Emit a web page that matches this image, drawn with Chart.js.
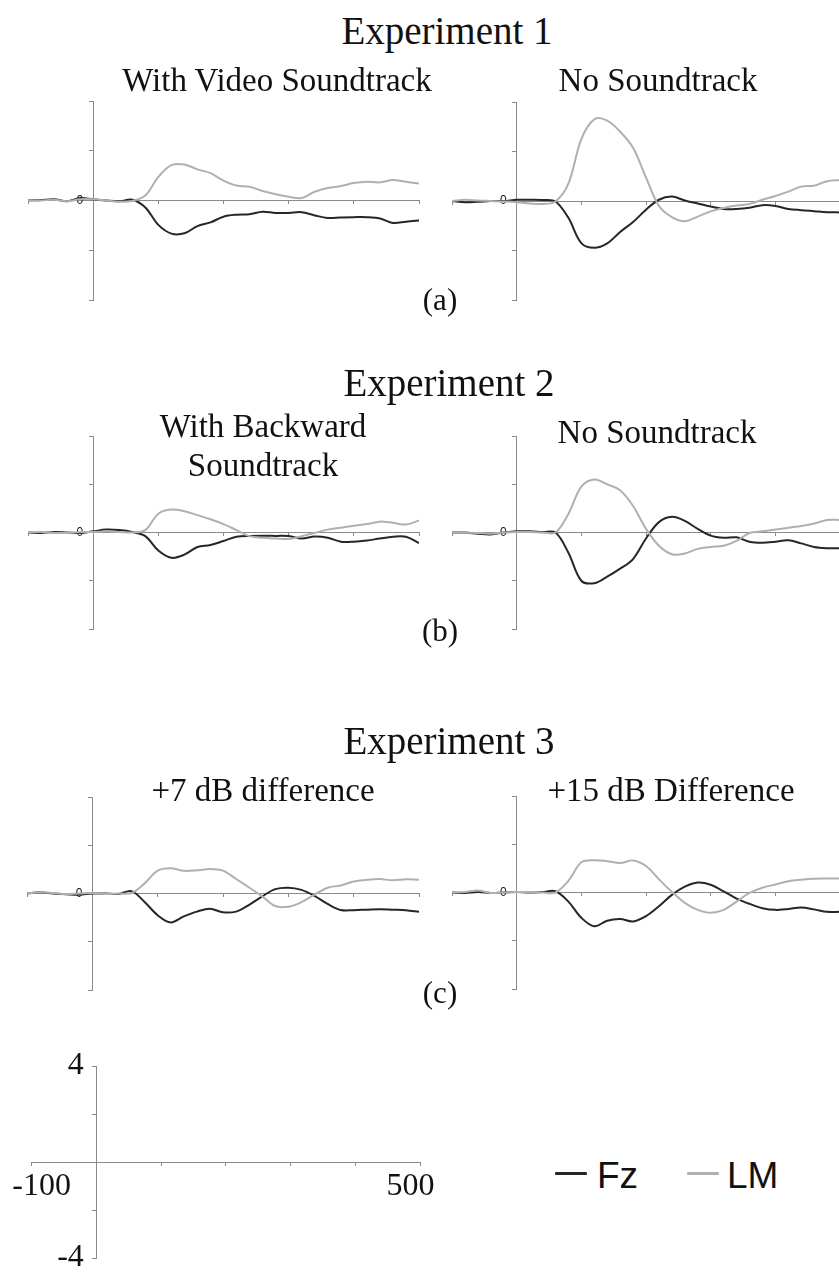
<!DOCTYPE html>
<html lang="en">
  <head>
    <meta charset="UTF-8" />
    <title>ERP waveforms, Experiments 1-3</title>
    <script src="https://cdn.jsdelivr.net/npm/chart.js@4.4.1/dist/chart.umd.min.js"></script>
    <style>
      html,
      body {
        margin: 0;
        padding: 0;
        background: #fff;
      }
      #page {
        position: relative;
        width: 839px;
        height: 1277px;
        overflow: hidden;
        background: #fff;
      }
      #page canvas {
        position: absolute;
      }
      .txt {
        position: absolute;
        white-space: nowrap;
        line-height: 1;
        color: #111;
        font-family: "Liberation Serif", "Times New Roman", serif;
      }
      .legend {
        position: absolute;
        left: 555px;
        top: 1150px;
        font-family: "Liberation Sans", Arial, sans-serif;
        font-size: 37px;
        line-height: 1;
        color: #111;
      }
      .legend .sw {
        position: absolute;
        height: 3px;
        border-radius: 1px;
      }
      .legend .lab {
        position: absolute;
        white-space: nowrap;
      }
    </style>
  </head>
  <body>
    <div id="page"></div>

    <script>
      // time axis, ms (sampled every 20 ms)
      const TIME_MS = [
        -100, -80, -60, -40, -20, 0, 20, 40, 60, 80, 100, 120, 140, 160, 180,
        200, 220, 240, 260, 280, 300, 320, 340, 360, 380, 400, 420, 440, 460,
        480, 500,
      ];

      // amplitudes in microvolts
      // Experiment 1 - with video soundtrack
      const exp1VideoFz = [0, 0.02, 0.05, -0.03, 0.1, 0.05, 0, -0.03, 0.03, -0.28, -0.98, -1.33, -1.32, -1.03, -0.88, -0.65, -0.57, -0.55, -0.45, -0.5, -0.5, -0.47, -0.6, -0.7, -0.68, -0.67, -0.67, -0.72, -0.9, -0.85, -0.8];
      const exp1VideoLm = [0, 0, 0.03, -0.03, 0.05, 0.05, 0, -0.05, -0.02, 0.2, 0.95, 1.42, 1.45, 1.25, 1.1, 0.8, 0.6, 0.55, 0.38, 0.25, 0.15, 0.1, 0.35, 0.5, 0.58, 0.7, 0.75, 0.73, 0.82, 0.75, 0.68];
      // Experiment 1 - no soundtrack
      const exp1NoneFz = [0, -0.05, -0.03, 0, 0, 0.05, 0.05, 0.04, -0.02, -0.68, -1.7, -1.89, -1.71, -1.25, -0.85, -0.35, 0.05, 0.18, 0.02, -0.1, -0.22, -0.32, -0.32, -0.27, -0.17, -0.2, -0.32, -0.37, -0.41, -0.45, -0.46];
      const exp1NoneLm = [0, 0.05, 0.02, 0, -0.02, -0.05, -0.1, -0.12, -0.02, 0.7, 2.5, 3.3, 3.25, 2.8, 2.15, 0.95, -0.2, -0.65, -0.82, -0.63, -0.42, -0.28, -0.18, -0.12, 0.05, 0.2, 0.38, 0.58, 0.62, 0.8, 0.85];
      // Experiment 2 - with backward soundtrack
      const exp2BackFz = [0, -0.02, 0.02, 0, -0.02, 0.05, 0.12, 0.1, 0.02, -0.15, -0.75, -1.05, -0.92, -0.6, -0.52, -0.35, -0.18, -0.14, -0.13, -0.14, -0.15, -0.25, -0.17, -0.22, -0.38, -0.38, -0.33, -0.25, -0.18, -0.18, -0.44];
      const exp2BackLm = [0, 0.02, -0.02, -0.02, 0.02, 0.02, 0.05, 0.02, 0, 0.1, 0.78, 0.95, 0.88, 0.72, 0.55, 0.35, 0.1, -0.15, -0.22, -0.25, -0.27, -0.15, -0.02, 0.12, 0.2, 0.28, 0.35, 0.45, 0.4, 0.33, 0.5];
      // Experiment 2 - no soundtrack
      const exp2NoneFz = [0, 0, -0.05, -0.08, 0, 0.05, 0.05, 0.02, 0, -0.84, -2.0, -2.1, -1.83, -1.5, -1.1, -0.25, 0.43, 0.65, 0.48, 0.15, -0.13, -0.22, -0.2, -0.38, -0.42, -0.38, -0.32, -0.45, -0.6, -0.65, -0.65];
      const exp2NoneLm = [0, 0, -0.02, -0.05, 0, 0.02, 0.02, 0, 0, 0.77, 1.9, 2.2, 2.0, 1.75, 1.1, 0.15, -0.55, -0.9, -0.87, -0.68, -0.6, -0.55, -0.35, -0.02, 0.05, 0.12, 0.2, 0.27, 0.37, 0.52, 0.52];
      // Experiment 3 - +7 dB difference
      const exp3SevenFz = [0, 0.05, 0, -0.03, -0.05, 0, 0, -0.02, 0.1, -0.35, -0.9, -1.2, -0.95, -0.75, -0.63, -0.78, -0.75, -0.47, -0.12, 0.18, 0.24, 0.15, -0.1, -0.43, -0.68, -0.69, -0.67, -0.65, -0.67, -0.69, -0.76];
      const exp3SevenLm = [0, 0.05, 0.02, -0.02, 0, 0.02, -0.02, 0, 0.02, 0.42, 0.95, 1.05, 0.94, 0.96, 1.02, 0.95, 0.6, 0.25, -0.12, -0.52, -0.55, -0.36, -0.05, 0.24, 0.33, 0.5, 0.57, 0.6, 0.55, 0.59, 0.57];
      // Experiment 3 - +15 dB difference
      const exp3FifteenFz = [0, -0.02, 0.02, -0.02, 0, 0.02, 0, 0.02, 0.05, -0.38, -1.05, -1.4, -1.17, -1.1, -1.2, -0.98, -0.57, -0.1, 0.24, 0.41, 0.32, 0.05, -0.25, -0.47, -0.65, -0.72, -0.68, -0.62, -0.7, -0.8, -0.8];
      const exp3FifteenLm = [0, 0.02, 0.08, -0.02, 0, 0.02, 0.02, 0, 0, 0.48, 1.25, 1.34, 1.3, 1.22, 1.33, 1.1, 0.55, 0.03, -0.43, -0.72, -0.84, -0.72, -0.38, -0.02, 0.2, 0.33, 0.47, 0.53, 0.57, 0.58, 0.58];

      // scale panel labels
      const SCALE_X_LABELS = [-100, 500];
      const SCALE_Y_LABELS = [4, -4];

      const X_MIN = -100, X_MAX = 500, Y_MIN = -4, Y_MAX = 4;

      const FZ_COLOR = "#262626";
      const LM_COLOR = "#b0b0b0";
      const AXIS_COLOR = "#8a8a8a";
      const PAD = 40;

      // where each plot's axes sit on the page: x of -100 / 500, y of +4 / -4
      const panels = [
        { fz: exp1VideoFz, lm: exp1VideoLm, x0: 28, x1: 419, top: 101, bot: 300 },
        { fz: exp1NoneFz, lm: exp1NoneLm, x0: 452, x1: 840, top: 102, bot: 300 },
        { fz: exp2BackFz, lm: exp2BackLm, x0: 28, x1: 419, top: 436, bot: 629 },
        { fz: exp2NoneFz, lm: exp2NoneLm, x0: 452, x1: 840, top: 436, bot: 629 },
        { fz: exp3SevenFz, lm: exp3SevenLm, x0: 27, x1: 419, top: 797, bot: 990 },
        { fz: exp3FifteenFz, lm: exp3FifteenLm, x0: 452, x1: 840, top: 796, bot: 989 },
      ];
      const scalePanel = { x0: 31, x1: 420, top: 1066, bot: 1258 };

      const texts = [
        { t: "Experiment 1", x: 447, base: 44, size: 39 },
        { t: "With Video Soundtrack", x: 277, base: 92, size: 33 },
        { t: "No Soundtrack", x: 658, base: 92, size: 33 },
        { t: "(a)", x: 440, base: 310, size: 31 },
        { t: "Experiment 2", x: 449, base: 396, size: 39 },
        { t: "With Backward", x: 263, base: 438, size: 33 },
        { t: "Soundtrack", x: 263, base: 477, size: 33 },
        { t: "No Soundtrack", x: 657, base: 444, size: 33 },
        { t: "(b)", x: 440, base: 641, size: 31 },
        { t: "Experiment 3", x: 449, base: 754, size: 39 },
        { t: "+7 dB difference", x: 263, base: 802, size: 33 },
        { t: "+15 dB Difference", x: 671, base: 802, size: 33 },
        { t: "(c)", x: 440, base: 1003, size: 31 },
      ];

      const page = document.getElementById("page");

      function addCanvas(p) {
        const c = document.createElement("canvas");
        const w = p.x1 - p.x0 + 2 * PAD;
        const h = p.bot - p.top + 2 * PAD;
        c.width = w;
        c.height = h;
        c.style.left = p.x0 - PAD + "px";
        c.style.top = p.top - PAD + "px";
        c.style.width = w + "px";
        c.style.height = h + "px";
        page.appendChild(c);
        return c;
      }

      function axisOpts(axis, tickLen, labelFn, font) {
        return {
          type: "linear",
          min: axis === "x" ? X_MIN : Y_MIN,
          max: axis === "x" ? X_MAX : Y_MAX,
          position: axis === "x" ? { y: 0 } : { x: 0 },
          grid: {
            drawOnChartArea: false,
            drawTicks: true,
            tickLength: tickLen,
            color: AXIS_COLOR,
            lineWidth: 1,
          },
          border: { display: true, color: AXIS_COLOR, width: 1 },
          ticks: {
            stepSize: axis === "x" ? 100 : 2,
            autoSkip: false,
            maxRotation: 0,
            color: "#111",
            padding: 2,
            font: font,
            callback: labelFn,
          },
        };
      }

      function toPoints(vals) {
        return TIME_MS.map((t, i) => ({ x: t, y: vals[i] }));
      }

      function makeChart(canvas, datasets, xAxis, yAxis) {
        return new Chart(canvas, {
          type: "line",
          data: { datasets: datasets },
          options: {
            responsive: false,
            animation: false,
            events: [],
            layout: { padding: PAD },
            plugins: { legend: { display: false }, tooltip: { enabled: false } },
            elements: { point: { radius: 0 } },
            scales: { x: xAxis, y: yAxis },
          },
        });
      }

      const smallFont = { family: "'Liberation Sans', Arial, sans-serif", size: 12 };
      const bigFont = { family: "'Liberation Serif', 'Times New Roman', serif", size: 32 };
      // labels of a centred axis sit flush on the axis line; pad them off it
      const GAP = "\u2009";

      panels.forEach((p) => {
        makeChart(
          addCanvas(p),
          [
            { label: "LM", data: toPoints(p.lm), borderColor: LM_COLOR, borderWidth: 2, tension: 0.35, fill: false },
            { label: "Fz", data: toPoints(p.fz), borderColor: FZ_COLOR, borderWidth: 2, tension: 0.35, fill: false },
          ],
          axisOpts("x", 3, () => "", smallFont),
          axisOpts("y", 4, (v) => (v === 0 ? "0   " : ""), smallFont)
        );
      });

      // calibration axes (no data)
      makeChart(
        addCanvas(scalePanel),
        [],
        axisOpts(
          "x",
          3,
          (v) => {
            if (!SCALE_X_LABELS.includes(v)) return "";
            return v < 0 ? GAP.repeat(3) + v : v + GAP.repeat(3);
          },
          bigFont
        ),
        axisOpts("y", 4, (v) => (SCALE_Y_LABELS.includes(v) ? v + GAP.repeat(2) : ""), bigFont)
      );

      // titles and panel letters
      texts.forEach((d) => {
        const el = document.createElement("div");
        el.className = "txt";
        el.textContent = d.t;
        el.style.fontSize = d.size + "px";
        el.style.top = d.base - 0.8375 * d.size + "px";
        el.style.left = d.x + "px";
        el.style.transform = "translateX(-50%)";
        page.appendChild(el);
      });

      // legend
      const legend = document.createElement("div");
      legend.className = "legend";
      [
        { name: "Fz", color: FZ_COLOR, sx: 0, tx: 42 },
        { name: "LM", color: LM_COLOR, sx: 132, tx: 172 },
      ].forEach((it) => {
        const sw = document.createElement("div");
        sw.className = "sw";
        sw.style.left = it.sx + "px";
        sw.style.width = "32px";
        sw.style.top = "22px";
        sw.style.background = it.color;
        legend.appendChild(sw);
        const lab = document.createElement("div");
        lab.className = "lab";
        lab.textContent = it.name;
        lab.style.left = it.tx + "px";
        lab.style.top = 1188 - 1150 - 0.8465 * 37 + "px";
        legend.appendChild(lab);
      });
      page.appendChild(legend);
    </script>
  </body>
</html>
